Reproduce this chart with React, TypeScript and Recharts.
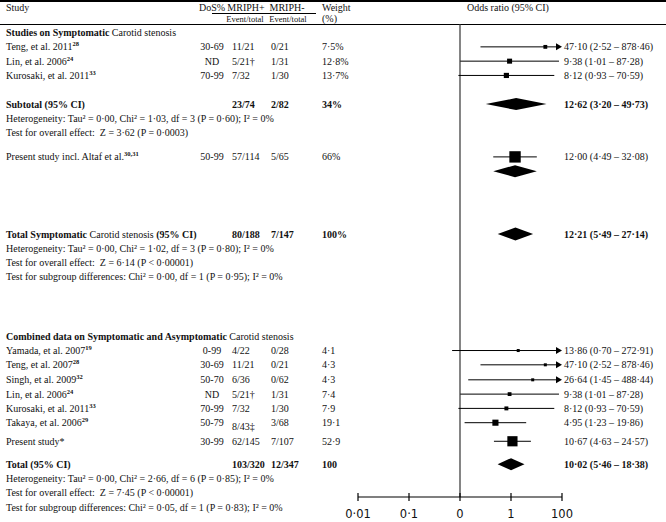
import React from 'react';
import { ComposedChart, Scatter, XAxis, YAxis, ReferenceLine, Customized } from 'recharts';

const SERIF = '"Liberation Serif", "Times New Roman", serif';
const SANS = '"DejaVu Sans", sans-serif';

// studies on symptomatic carotid stenosis
const symStudies = ['Teng, et al. 2011', 'Lin, et al. 2006', 'Kurosaki, et al. 2011'];
const symRefs = ['28', '24', '33'];
const symDoS = ['30-69', 'ND', '70-99'];
const symPlus = ['11/21', '5/21†', '7/32'];
const symMinus = ['0/21', '1/31', '1/30'];
const symWeight = [7.5, 12.8, 13.7];
const symOR = [47.1, 9.38, 8.12];
const symLow = [2.52, 1.01, 0.93];
const symHigh = [878.46, 87.28, 70.59];

// present study incl. Altaf
const presName = 'Present study incl. Altaf et al.';
const presRef = '30,31';
const presDoS = '50-99';
const presPlus = '57/114';
const presMinus = '5/65';
const presWeight = 66;
const presOR = [12.0, 4.49, 32.08];

// combined symptomatic + asymptomatic
const combStudies = ['Yamada, et al. 2007', 'Teng, et al. 2007', 'Singh, et al. 2009', 'Lin, et al. 2006', 'Kurosaki, et al. 2011', 'Takaya, et al. 2006', 'Present study*'];
const combRefs = ['19', '28', '32', '24', '33', '29', ''];
const combDoS = ['0-99', '30-69', '50-70', 'ND', '70-99', '50-79', '30-99'];
const combPlus = ['4/22', '11/21', '6/36', '5/21†', '7/32', '8/43‡', '62/145'];
const combMinus = ['0/28', '0/21', '0/62', '1/31', '1/30', '3/68', '7/107'];
const combWeight = [4.1, 4.3, 4.3, 7.4, 7.9, 19.1, 52.9];
const combOR = [13.86, 47.1, 26.64, 9.38, 8.12, 4.95, 10.67];
const combLow = [0.7, 2.52, 1.45, 1.01, 0.93, 1.23, 4.63];
const combHigh = [272.91, 878.46, 488.44, 87.28, 70.59, 19.86, 24.57];

// pooled estimates [OR, low, high]
const subtotalOR = [12.62, 3.2, 49.73];
const totalSymOR = [12.21, 5.49, 27.14];
const totalOR = [10.02, 5.46, 18.38];

const subtotalStats = [
  'Heterogeneity: Tau² = 0·00, Chi² = 1·03, df = 3 (P = 0·60); I² = 0%',
  'Test for overall effect:\u00a0 Z = 3·62 (P = 0·0003)',
];
const totalSymStats = [
  'Heterogeneity: Tau² = 0·00, Chi² = 1·02, df = 3 (P = 0·80); I² = 0%',
  'Test for overall effect:\u00a0 Z = 6·14 (P < 0·00001)',
  'Test for subgroup differences: Chi² = 0·00, df = 1 (P = 0·95); I² = 0%',
];
const totalStats = [
  'Heterogeneity: Tau² = 0·00, Chi² = 2·66, df = 6 (P = 0·85); I² = 0%',
  'Test for overall effect:\u00a0 Z = 7·45 (P < 0·00001)',
  'Test for subgroup differences: Chi² = 0·05, df = 1 (P = 0·83); I² = 0%',
];

const tickPositions = [0.01, 0.1, 1, 10, 100];
const tickLabels = ['0·01', '0·1', '0', '1', '100'];

// row slots (y axis units)
const symRows = [1, 2, 3];
const combRows = [22.25, 23.25, 24.3, 25.3, 26.3, 27.3, 28.6];

const lg = Math.log10;
const AXIS_MAX = lg(100);
const fmt = (v: number) => v.toFixed(2).replace('.', '·');
const ci = (o: number, l: number, h: number) => `${fmt(o)} (${fmt(l)} – ${fmt(h)})`;
const wt = (w: number, pct: boolean) => (Number.isInteger(w) ? String(w) : w.toFixed(1).replace('.', '·')) + (pct ? '%' : '');

type Part = { t: string; b?: boolean };
type Row = {
  x: number; row: number; parts: Part[]; refs?: string; dos?: string; plus?: string; minus?: string;
  weight?: string; ci?: string; bold?: boolean; stats?: string[]; shift?: number;
};

const rows: Row[] = [];
rows.push({ x: 0, row: 0, parts: [{ t: 'Studies on Symptomatic', b: true }, { t: ' Carotid stenosis' }] });
symStudies.forEach((s, i) => rows.push({
  x: 0, row: symRows[i], parts: [{ t: s }], refs: symRefs[i], dos: symDoS[i], plus: symPlus[i],
  minus: symMinus[i], weight: wt(symWeight[i], true), ci: ci(symOR[i], symLow[i], symHigh[i]),
}));
rows.push({
  x: 0, row: 5, parts: [{ t: 'Subtotal (95% CI)', b: true }], plus: '23/74', minus: '2/82', weight: '34%',
  ci: ci(subtotalOR[0], subtotalOR[1], subtotalOR[2]), bold: true, stats: subtotalStats,
});
rows.push({
  x: 0, row: 8.7, parts: [{ t: presName }], refs: presRef, dos: presDoS, plus: presPlus, minus: presMinus,
  weight: wt(presWeight, true), ci: ci(presOR[0], presOR[1], presOR[2]),
});
rows.push({
  x: 0, row: 14.1, parts: [{ t: 'Total Symptomatic', b: true }, { t: ' Carotid stenosis' }, { t: ' (95% CI)', b: true }],
  plus: '80/188', minus: '7/147', weight: '100%', ci: ci(totalSymOR[0], totalSymOR[1], totalSymOR[2]), bold: true, stats: totalSymStats,
});
rows.push({ x: 0, row: 21.3, parts: [{ t: 'Combined data on Symptomatic and Asymptomatic', b: true }, { t: ' Carotid stenosis' }] });
combStudies.forEach((s, i) => rows.push({
  x: 0, row: combRows[i], parts: [{ t: s }], refs: combRefs[i], dos: combDoS[i], plus: combPlus[i],
  minus: combMinus[i], weight: wt(combWeight[i], false), ci: ci(combOR[i], combLow[i], combHigh[i]),
  shift: i === 5 ? 4 : 0,
}));
rows.push({
  x: 0, row: 30.2, parts: [{ t: 'Total (95% CI)', b: true }], plus: '103/320', minus: '12/347', weight: '100',
  ci: ci(totalOR[0], totalOR[1], totalOR[2]), bold: true, stats: totalStats,
});

const studies = [
  ...symStudies.map((_, i) => ({ x: lg(symOR[i]), row: symRows[i], w: symWeight[i], lo: symLow[i], hi: symHigh[i] })),
  { x: lg(presOR[0]), row: 8.7, w: presWeight, lo: presOR[1], hi: presOR[2] },
  ...combStudies.map((_, i) => ({ x: lg(combOR[i]), row: combRows[i], w: combWeight[i], lo: combLow[i], hi: combHigh[i] })),
];

const diamonds = [
  { row: 5, v: subtotalOR, h: 6 },
  { row: 9.7, v: presOR, h: 6 },
  { row: 14.1, v: totalSymOR, h: 6.5 },
  { row: 30.2, v: totalOR, h: 6 },
];

const txt = { fontFamily: SERIF, fontSize: 10, fill: '#111' };

const RowText = (p: any) => {
  const { cy, payload } = p;
  const r: Row = payload;
  const fw = r.bold ? 'bold' : 'normal';
  return (
    <g>
      <text x={6} y={cy} dy="0.35em" {...txt}>
        {r.parts.map((pt, i) => (
          <tspan key={i} fontWeight={pt.b ? 'bold' : 'normal'}>{pt.t}</tspan>
        ))}
        {r.refs ? <tspan fontSize={6.5} fontWeight="bold" dy={-4}>{r.refs}</tspan> : null}
      </text>
      {r.dos && <text x={212} y={cy} dy="0.35em" textAnchor="middle" {...txt}>{r.dos}</text>}
      {r.plus && <text x={232} y={cy + (r.shift || 0)} dy="0.35em" fontWeight={fw} {...txt}>{r.plus}</text>}
      {r.minus && <text x={271} y={cy} dy="0.35em" fontWeight={fw} {...txt}>{r.minus}</text>}
      {r.weight && <text x={322} y={cy} dy="0.35em" fontWeight={fw} {...txt}>{r.weight}</text>}
      {r.ci && <text x={564} y={cy} dy="0.35em" fontWeight={fw} {...txt}>{r.ci}</text>}
      {(r.stats || []).map((s, i) => (
        <text key={i} x={6} y={cy + 14.3 * (i + 1)} dy="0.35em" {...txt}>{s}</text>
      ))}
    </g>
  );
};

const Square = (p: any) => {
  const { cx, cy, payload } = p;
  const s = Math.max(3, 1.4 * Math.sqrt(payload.w));
  return <rect x={cx - s / 2} y={cy - s / 2} width={s} height={s} fill="#000" />;
};

const CiLine = (p: any) => {
  const { x1, y1, x2, clipped } = p;
  if (!clipped) return <line x1={x1} x2={x2} y1={y1} y2={y1} stroke="#000" strokeWidth={1} />;
  return (
    <g>
      <line x1={x1} x2={x2 - 4} y1={y1} y2={y1} stroke="#000" strokeWidth={1} />
      <polygon points={`${x2},${y1} ${x2 - 6},${y1 - 3.5} ${x2 - 6},${y1 + 3.5}`} fill="#000" />
    </g>
  );
};

const Diamond = (p: any) => {
  const { x1, y1, x2, frac, h } = p;
  const c = x1 + (x2 - x1) * frac;
  return <polygon points={`${x1},${y1} ${c},${y1 - h} ${x2},${y1} ${c},${y1 + h}`} fill="#000" />;
};

const AxisTick = (p: any) => {
  const { x, y, payload } = p;
  const i = tickPositions.findIndex((t) => Math.abs(lg(t) - payload.value) < 1e-6);
  return (
    <g>
      <line x1={x} x2={x} y1={y - 4} y2={y + 4} stroke="#000" strokeWidth={1.2} />
      <text x={x} y={y + 21} textAnchor="middle" fontFamily={SANS} fontSize={11.5} fill="#111">
        {tickLabels[i]}
      </text>
    </g>
  );
};

const Header = () => (
  <g>
    <line x1={0} x2={666} y1={1} y2={1} stroke="#000" strokeWidth={2} />
    <text x={6} y={11} {...txt}>Study</text>
    <text x={212} y={11} textAnchor="middle" {...txt}>DoS%</text>
    <text x={246} y={11} textAnchor="middle" {...txt}>MRIPH+</text>
    <text x={287} y={11} textAnchor="middle" {...txt}>MRIPH-</text>
    <line x1={212} x2={316} y1={13.5} y2={13.5} stroke="#000" strokeWidth={1} />
    <text x={245} y={22} textAnchor="middle" {...txt} fontSize={8.5}>Event/total</text>
    <text x={288} y={22} textAnchor="middle" {...txt} fontSize={8.5}>Event/total</text>
    <text x={322} y={11} {...txt}>Weight</text>
    <text x={322} y={22} {...txt}>(%)</text>
    <text x={467} y={11} {...txt}>Odds ratio (95% CI)</text>
    <line x1={0} x2={666} y1={24.5} y2={24.5} stroke="#000" strokeWidth={1} />
  </g>
);

export default function App() {
  return (
    <div style={{ position: 'absolute', left: 0, top: 0, width: 666, height: 522, background: '#fff' }}>
      <ComposedChart width={666} height={522} margin={{ top: 24, right: 104, bottom: 0, left: 358 }}>
        <XAxis
          type="number"
          dataKey="x"
          domain={[lg(0.01), AXIS_MAX]}
          ticks={tickPositions.map(lg)}
          interval={0}
          height={25}
          tickSize={0}
          tickMargin={0}
          tickLine={false}
          axisLine={{ stroke: '#000', strokeWidth: 1.2 }}
          tick={<AxisTick />}
        />
        <YAxis type="number" dataKey="row" domain={[-0.6, 32.5]} reversed hide width={0} />
        <Customized component={<Header />} />
        <ReferenceLine x={0} stroke="#333" strokeWidth={1.2} />
        {studies.map((s, i) => (
          <ReferenceLine
            key={'ci' + i}
            segment={[{ x: lg(s.lo), y: s.row }, { x: Math.min(lg(s.hi), AXIS_MAX), y: s.row }]}
            ifOverflow="visible"
            shape={(p: any) => <CiLine {...p} clipped={lg(s.hi) > AXIS_MAX} />}
          />
        ))}
        {diamonds.map((d, i) => (
          <ReferenceLine
            key={'d' + i}
            segment={[{ x: lg(d.v[1]), y: d.row }, { x: lg(d.v[2]), y: d.row }]}
            ifOverflow="visible"
            shape={(p: any) => (
              <Diamond {...p} h={d.h} frac={(lg(d.v[0]) - lg(d.v[1])) / (lg(d.v[2]) - lg(d.v[1]))} />
            )}
          />
        ))}
        <Scatter data={studies} shape={<Square />} isAnimationActive={false} />
        <Scatter data={rows} shape={<RowText />} isAnimationActive={false} />
      </ComposedChart>
    </div>
  );
}
